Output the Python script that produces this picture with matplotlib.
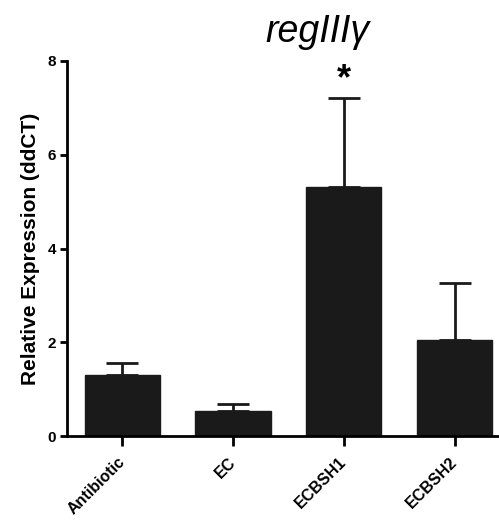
import numpy as np
import matplotlib
matplotlib.use("Agg")
import matplotlib.pyplot as plt

## ================= DATA ================= ##
groups = ["Antibiotic", "EC", "ECBSH1", "ECBSH2"]
means = [1.30, 0.53, 5.32, 2.05]
sems = [0.26, 0.15, 1.90, 1.22]
sig_marks = ["", "", "*", ""]

## ================= PLOT ================= ##
plt.rcParams['font.family'] = ['Liberation Sans', 'DejaVu Sans']

fig = plt.figure(figsize=(4.99, 5.2), dpi=100)
ax = fig.add_axes([0.134, 0.1615, 0.888, 0.7212])

x_pos = np.arange(len(groups))
ax.bar(x_pos, means, width=0.68, color='#1a1a1a', edgecolor='#1a1a1a', zorder=2)
ax.errorbar(x_pos, means, yerr=[np.zeros(len(sems)), sems], fmt='none',
            ecolor='#1a1a1a', elinewidth=2, capsize=11.5, capthick=2, zorder=1)

# significance star above the error bar
for i, s in enumerate(sig_marks):
    if s:
        ax.text(i, means[i] + sems[i] + 0.01, s, ha='center', va='bottom',
                fontsize=26, fontweight='bold')

ax.set_xlim(-0.5, 3.5)
ax.set_ylim(0, 8)
ax.set_yticks([0, 2, 4, 6, 8])
ax.set_xticks(x_pos)
ax.set_xticklabels(groups, rotation=45, ha='right', va='center', rotation_mode='anchor',
                   fontsize=11.5, fontweight='bold')
for lab in ax.get_yticklabels():
    lab.set_fontweight('bold')
    lab.set_fontsize(11)

ax.spines['top'].set_visible(False)
ax.spines['right'].set_visible(False)
ax.spines['left'].set_linewidth(2)
ax.spines['bottom'].set_linewidth(2)
ax.tick_params(axis='y', width=2, length=5, direction='out', pad=3)
ax.tick_params(axis='x', width=2, length=7, direction='out', pad=10)

ax.set_ylabel("Relative Expression (ddCT)", fontsize=15, fontweight='bold', labelpad=5)
fig.text(0.636, 0.919, "regIII\u03b3", ha='center', va='baseline',
         fontsize=27, style='italic')

fig.savefig("out.png", dpi=100)
